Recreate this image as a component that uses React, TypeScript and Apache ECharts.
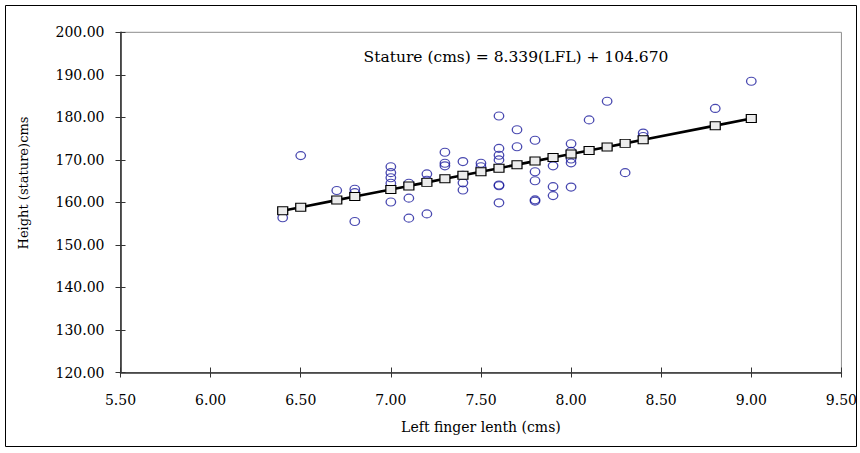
import React, { useEffect, useRef } from "react";
import * as echarts from "echarts";

// Observed data: left finger length (cms) vs stature (cms)
const fingerLength: number[] = [
  6.4, 6.5, 6.7, 6.8, 6.8, 6.8,
  7.0, 7.0, 7.0, 7.0, 7.0,
  7.1, 7.1, 7.1,
  7.2, 7.2, 7.2,
  7.3, 7.3, 7.3,
  7.4, 7.4, 7.4, 7.4,
  7.5, 7.5,
  7.6, 7.6, 7.6, 7.6, 7.6, 7.6, 7.6,
  7.7, 7.7,
  7.8, 7.8, 7.8, 7.8, 7.8,
  7.9, 7.9, 7.9,
  8.0, 8.0, 8.0, 8.0, 8.0,
  8.1, 8.2, 8.3, 8.4, 8.4, 8.8, 9.0,
];
const stature: number[] = [
  156.4, 171.0, 162.8, 163.1, 162.3, 155.5,
  168.4, 167.0, 165.8, 164.5, 160.1,
  164.5, 161.0, 156.3,
  166.7, 165.2, 157.3,
  171.8, 169.2, 168.6,
  169.6, 166.4, 164.6, 162.9,
  169.2, 168.4,
  180.3, 172.7, 171.1, 170.0, 164.1, 163.9, 159.9,
  177.1, 173.1,
  174.6, 167.2, 165.1, 160.6, 160.3,
  168.6, 163.7, 161.6,
  173.8, 172.0, 170.2, 169.3, 163.6,
  179.4, 183.8, 167.0, 176.3, 175.5, 182.1, 188.5,
];

// Fitted (regression) values shown as squares on the line
const fitX: number[] = [6.4, 6.5, 6.7, 6.8, 7.0, 7.1, 7.2, 7.3, 7.4, 7.5, 7.6, 7.7, 7.8, 7.9, 8.0, 8.1, 8.2, 8.3, 8.4, 8.8, 9.0];
const fitY: number[] = [158.04, 158.87, 160.54, 161.38, 163.04, 163.88, 164.71, 165.54, 166.38, 167.21, 168.05, 168.88, 169.71, 170.55, 171.38, 172.22, 173.05, 173.88, 174.72, 178.05, 179.72];

const equationText = "Stature (cms) = 8.339(LFL) + 104.670";
const xAxisTitle = "Left finger lenth (cms)";
const yAxisTitle = "Height (stature)cms";

const X_MIN = 5.5, X_MAX = 9.5, X_STEP = 0.5;
const Y_MIN = 120, Y_MAX = 200, Y_STEP = 10;

const FONT = "DejaVu Serif";
const ELLIPSE = "path://M0,5A5,5,0,1,0,10,5A5,5,0,1,0,0,5Z";

export default function App() {
  const ref = useRef<HTMLDivElement>(null);
  useEffect(() => {
    if (!ref.current) return;
    const chart = echarts.init(ref.current, null, { renderer: "svg" });
    const scatterData = fingerLength.map((x, i) => [x, stature[i]]);
    const fitData = fitX.map((x, i) => [x, fitY[i]]);
    const axisCommon = {
      type: "value" as const,
      splitLine: { show: false },
    };
    chart.setOption({
      animation: false,
      backgroundColor: "#ffffff",
      grid: {
        left: 120.5,
        right: 15,
        top: 32.3,
        bottom: 80.5,
        show: true,
        borderColor: "#8c8c8c",
        borderWidth: 1,
        backgroundColor: "transparent",
      },
      xAxis: [
        {
          ...axisCommon,
          min: X_MIN,
          max: X_MAX,
          interval: X_STEP,
          position: "bottom",
          axisLine: { show: true, onZero: false, lineStyle: { color: "#333333", width: 1.6 } },
          axisTick: { show: true, inside: false, length: 5, lineStyle: { color: "#333333", width: 1 } },
          axisLabel: {
            margin: 20,
            color: "#000000",
            fontFamily: FONT,
            fontSize: 14,
            formatter: (v: number) => v.toFixed(2),
          },
          name: xAxisTitle,
          nameLocation: "middle",
          nameGap: 47,
          nameTextStyle: { color: "#000000", fontFamily: FONT, fontSize: 14 },
        },
        {
          ...axisCommon,
          min: X_MIN,
          max: X_MAX,
          interval: X_STEP,
          position: "bottom",
          axisLine: { show: false },
          axisTick: { show: true, inside: true, length: 5, lineStyle: { color: "#333333", width: 1 } },
          axisLabel: { show: false },
        },
      ],
      yAxis: [
        {
          ...axisCommon,
          min: Y_MIN,
          max: Y_MAX,
          interval: Y_STEP,
          position: "left",
          axisLine: { show: true, onZero: false, lineStyle: { color: "#333333", width: 1.6 } },
          axisTick: { show: true, inside: false, length: 5, lineStyle: { color: "#333333", width: 1 } },
          axisLabel: {
            margin: 16,
            color: "#000000",
            fontFamily: FONT,
            fontSize: 14,
            formatter: (v: number) => v.toFixed(2),
          },
        },
        {
          ...axisCommon,
          min: Y_MIN,
          max: Y_MAX,
          interval: Y_STEP,
          position: "left",
          axisLine: { show: false },
          axisTick: { show: true, inside: true, length: 5, lineStyle: { color: "#333333", width: 1 } },
          axisLabel: { show: false },
        },
      ],
      graphic: [
        {
          type: "rect",
          shape: { x: 5.5, y: 5.5, width: 851, height: 441 },
          style: { fill: "transparent", stroke: "#000000", lineWidth: 1 },
          silent: true,
          z: -1,
        },
        {
          type: "text",
          x: 516,
          y: 57,
          style: {
            text: equationText,
            fontFamily: FONT,
            fontSize: 15.5,
            fill: "#000000",
            textAlign: "center",
            textVerticalAlign: "middle",
          },
        },
        {
          type: "text",
          x: 23,
          y: 183,
          rotation: Math.PI / 2,
          style: {
            text: yAxisTitle,
            fontFamily: FONT,
            fontSize: 13,
            fill: "#000000",
            textAlign: "center",
            textVerticalAlign: "middle",
          },
        },
      ],
      series: [
        {
          type: "line",
          name: "Predicted",
          data: fitData,
          xAxisIndex: 0,
          yAxisIndex: 0,
          symbol: "rect",
          symbolSize: [10, 8],
          showSymbol: true,
          lineStyle: { color: "#000000", width: 2.6 },
          itemStyle: { color: "#ececec", borderColor: "#000000", borderWidth: 1.1 },
          z: 3,
        },
        {
          type: "scatter",
          name: "Observed",
          data: scatterData,
          xAxisIndex: 0,
          yAxisIndex: 0,
          symbol: ELLIPSE,
          symbolKeepAspect: false,
          symbolSize: [9.5, 8],
          itemStyle: { color: "rgba(255,255,255,0)", borderColor: "#1c1c9c", borderWidth: 1.2 },
          z: 2,
        },
      ],
    });
    return () => chart.dispose();
  }, []);
  return (
    <div
      ref={ref}
      style={{ position: "fixed", left: 0, top: 0, width: 860, height: 453, background: "#ffffff" }}
    />
  );
}
